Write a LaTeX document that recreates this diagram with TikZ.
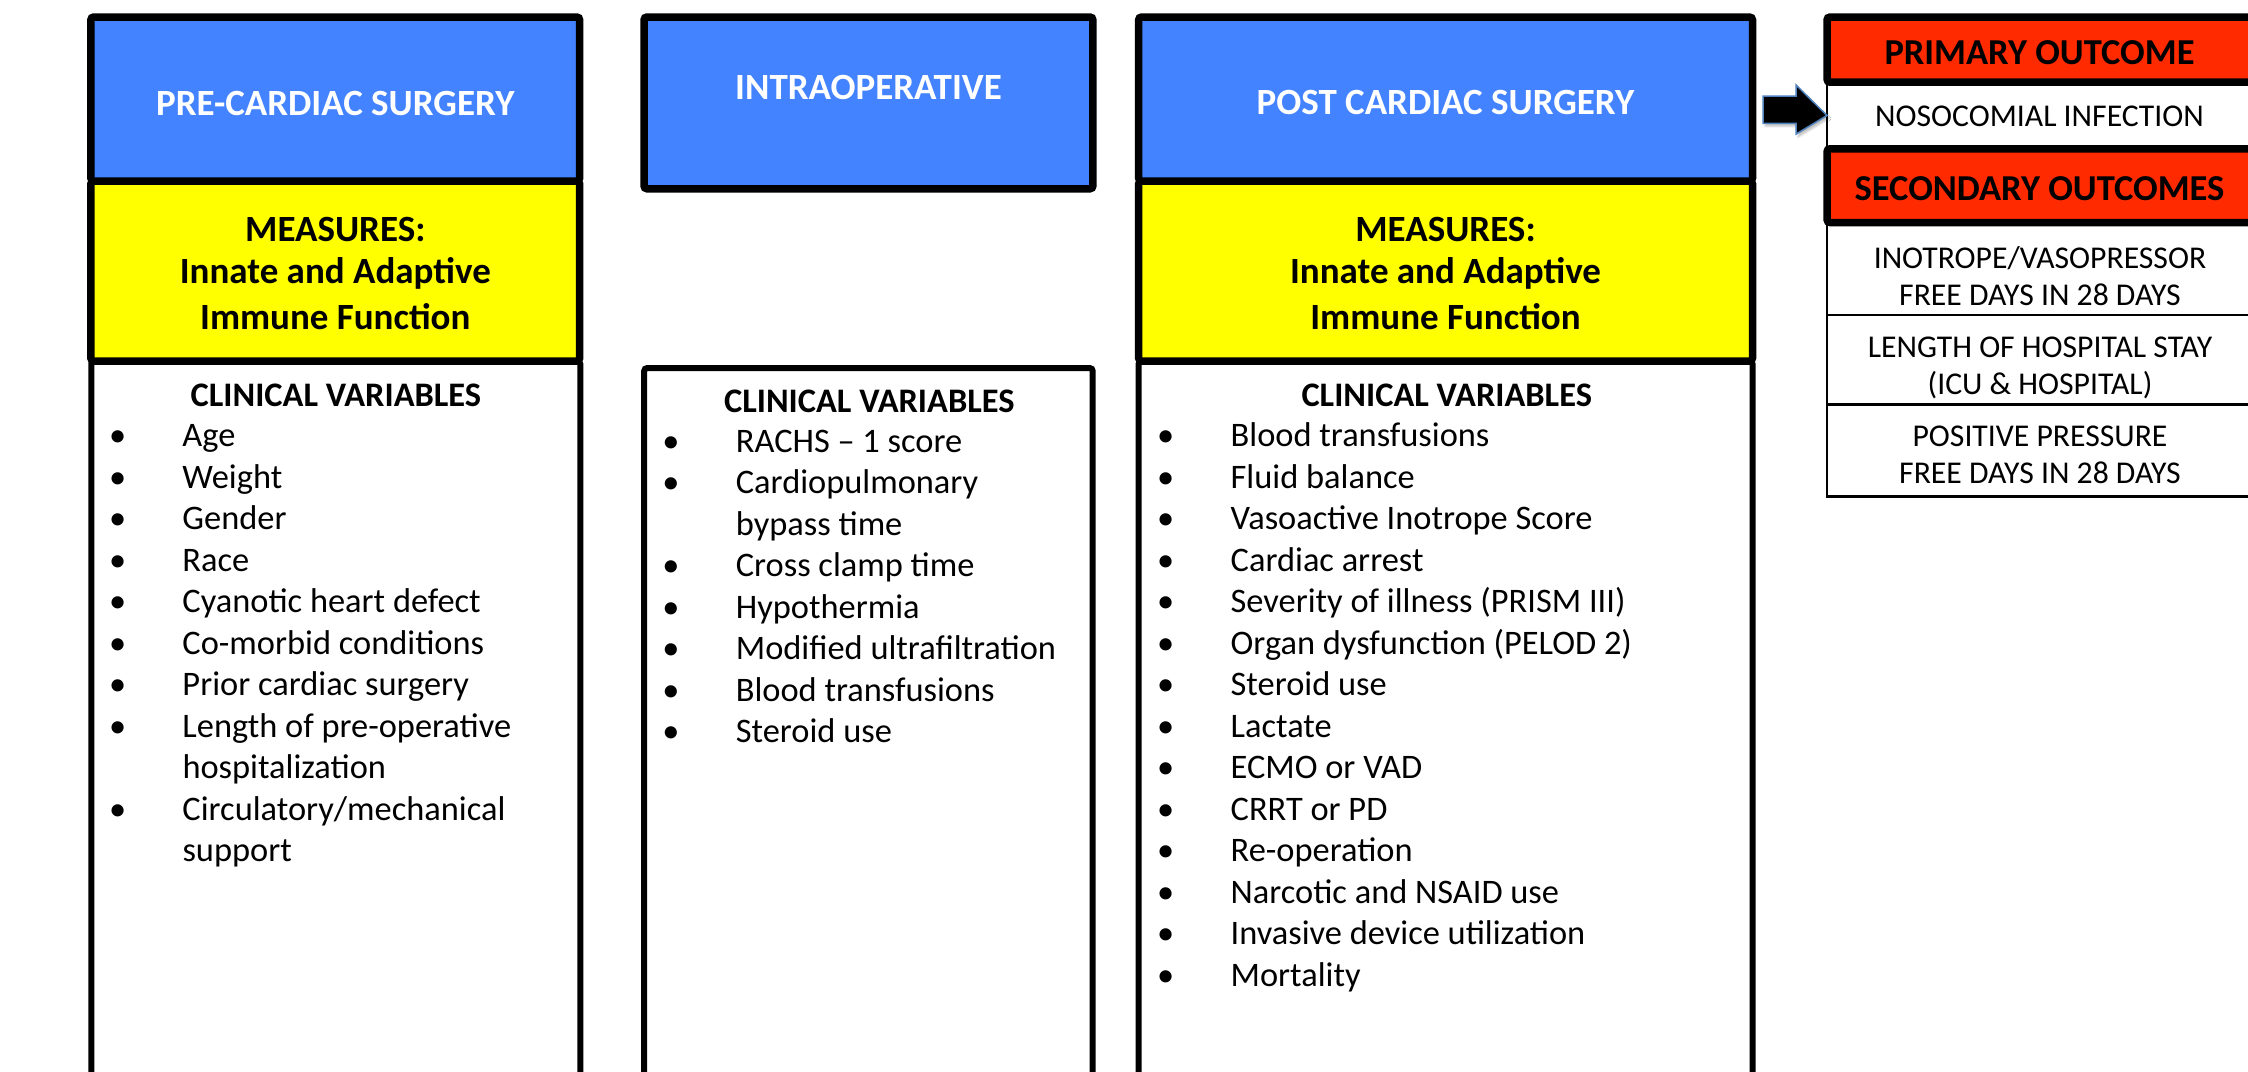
\documentclass[tikz,border=0pt]{standalone}
\usepackage{fontspec}
\setmainfont{Carlito}
\usetikzlibrary{shadows.blur}

\definecolor{hdrblue}{HTML}{4383FF}
\definecolor{measyellow}{HTML}{FFFF00}
\definecolor{outred}{HTML}{FF2A00}
\definecolor{arrowedge}{HTML}{4F81BD}

% bullet column and hanging indent for the variable lists
\newcommand\lbul{\makebox[73.5pt][l]{•}}
\newcommand\lcont{\hspace*{73.5pt}}
% top-aligned blocks: the node's base is the first line's baseline
\newcommand\leftblock[1]{\begin{tabular}[t]{@{}l@{}}#1\end{tabular}}
\newcommand\midblock[1]{\begin{tabular}[t]{@{}c@{}}#1\end{tabular}}

\begin{document}
\begin{tikzpicture}[x=1pt, y=-1pt,
  box/.style={draw=black, inner sep=0pt, outer sep=0pt, anchor=north west},
  hdrbox/.style={box, line width=7.5pt, fill=hdrblue, rounded corners=3pt},
  measbox/.style={box, line width=7.5pt, fill=measyellow, rounded corners=3pt},
  varbox/.style={box, line width=6pt, fill=white, rounded corners=3pt},
  redbox/.style={box, line width=7.5pt, fill=outred, rounded corners=3pt},
  outbox/.style={box, line width=2.5pt, fill=white},
  hdrtext/.style={anchor=base, inner sep=0pt, text=white, font=\fontsize{37}{44}\selectfont\bfseries},
  meastext/.style={anchor=base, inner sep=0pt, font=\fontsize{37}{44}\selectfont\bfseries},
  cvtitle/.style={anchor=base, inner sep=0pt, font=\fontsize{34.4}{41.5}\selectfont\bfseries},
  cvlist/.style={anchor=base west, inner sep=0pt, font=\fontsize{34.4}{41.5}\selectfont},
  redtext/.style={anchor=base, inner sep=0pt, font=\fontsize{36.5}{44}\selectfont\bfseries},
  outtext/.style={anchor=base, inner sep=0pt, font=\fontsize{31.7}{36.7}\selectfont},
]
\useasboundingbox (0,0) rectangle (2248,1071);
\clip (0,0) rectangle (2248,1071);

% ---- variable boxes (run past the lower edge)
\node[varbox, minimum width=489pt, minimum height=740pt] (prevar) at (91.3,361) {};
\node[varbox, minimum width=448.5pt, minimum height=733pt] (intravar) at (644.2,368) {};
\node[varbox, minimum width=613.9pt, minimum height=740pt] (postvar) at (1138.6,361) {};

% ---- measures boxes
\node[measbox, minimum width=488.9pt, minimum height=180pt] (premeas) at (90.8,181) {};
\node[measbox, minimum width=613.9pt, minimum height=180pt] (postmeas) at (1138.6,181) {};

% ---- phase headers
\node[hdrbox, minimum width=488.9pt, minimum height=164pt] (prehead) at (90.8,17) {};
\node[hdrbox, minimum width=448.9pt, minimum height=171.8pt] (intrahead) at (644,17) {};
\node[hdrbox, minimum width=613.9pt, minimum height=164pt] (posthead) at (1138.6,17) {};

\node[hdrtext] (prelabel) at (335.3,115) {PRE-CARDIAC SURGERY};
\node[hdrtext] (intralabel) at (868.5,99.3) {INTRAOPERATIVE};
\node[hdrtext] (postlabel) at (1445.5,114.3) {POST CARDIAC SURGERY};

\node[meastext] (premeastext) at (335.3,241.7)
  {\midblock{MEASURES:\\[-2.7pt]Innate and Adaptive\\[2.7pt]Immune Function}};
\node[meastext] (postmeastext) at (1445.5,241.7)
  {\midblock{MEASURES:\\[-2.7pt]Innate and Adaptive\\[2.7pt]Immune Function}};

% ---- clinical variables
\node[cvtitle] (precv) at (335.9,406.1) {CLINICAL VARIABLES};
\node[cvtitle] (intracv) at (869.3,412) {CLINICAL VARIABLES};
\node[cvtitle] (postcv) at (1446.7,406.1) {CLINICAL VARIABLES};

\node[cvlist] (prelist) at (108.8,446.6) {\leftblock{%
  \lbul Age\\
  \lbul Weight\\
  \lbul Gender\\
  \lbul Race\\
  \lbul Cyanotic heart defect\\
  \lbul Co-morbid conditions\\
  \lbul Prior cardiac surgery\\
  \lbul Length of pre-operative\\
  \lcont hospitalization\\
  \lbul Circulatory/mechanical\\
  \lcont support}};

\node[cvlist] (intralist) at (662.2,452) {\leftblock{%
  \lbul RACHS – 1 score\\
  \lbul Cardiopulmonary\\
  \lcont bypass time\\
  \lbul Cross clamp time\\
  \lbul Hypothermia\\
  \lbul Modified ultrafiltration\\
  \lbul Blood transfusions\\
  \lbul Steroid use}};

\node[cvlist] (postlist) at (1157,446.6) {\leftblock{%
  \lbul Blood transfusions\\
  \lbul Fluid balance\\
  \lbul Vasoactive Inotrope Score\\
  \lbul Cardiac arrest\\
  \lbul Severity of illness (PRISM III)\\
  \lbul Organ dysfunction (PELOD 2)\\
  \lbul Steroid use\\
  \lbul Lactate\\
  \lbul ECMO or VAD\\
  \lbul CRRT or PD\\
  \lbul Re-operation\\
  \lbul Narcotic and NSAID use\\
  \lbul Invasive device utilization\\
  \lbul Mortality}};

% ---- outcomes
\node[outbox, minimum width=427pt, minimum height=66.6pt] (noso) at (1827,82.2) {};
\node[outbox, minimum width=427pt, minimum height=92.5pt] (inotrope) at (1827,222.5) {};
\node[outbox, minimum width=427pt, minimum height=89.3pt] (stay) at (1827,315) {};
\node[outbox, minimum width=427pt, minimum height=92.4pt] (ppv) at (1827,404.3) {};
\node[redbox, minimum width=427pt, minimum height=65.2pt] (primary) at (1827,17) {};
\node[redbox, minimum width=427pt, minimum height=73.7pt] (secondary) at (1827,148.8) {};

\node[redtext] (primarytext) at (2039.5,64) {PRIMARY OUTCOME};
\node[outtext] (nosotext) at (2039.5,126.7) {NOSOCOMIAL INFECTION};
\node[redtext] (secondarytext) at (2039.5,200) {SECONDARY OUTCOMES};
\node[outtext] (inotropetext) at (2040,268.3) {\midblock{INOTROPE/VASOPRESSOR\\FREE DAYS IN 28 DAYS}};
\node[outtext] (staytext) at (2040,357.3) {\midblock{LENGTH OF HOSPITAL STAY\\(ICU \& HOSPITAL)}};
\node[outtext] (ppvtext) at (2040,446.7) {\midblock{POSITIVE PRESSURE\\FREE DAYS IN 28 DAYS}};

% ---- block arrow towards the primary outcome
\coordinate (arrtail) at (1763,109.6);
\filldraw[fill=black, draw=arrowedge, line width=1.5pt, line join=miter,
  blur shadow={shadow xshift=2pt, shadow yshift=-3pt, shadow opacity=25}]
  (arrtail) ++(0,-13.6) -- ++(33,0) -- ++(0,-11) -- (noso.west)
  -- (1796,134.1) -- ++(0,-10.8) -- ++(-33,0) -- cycle;
\end{tikzpicture}
\end{document}
